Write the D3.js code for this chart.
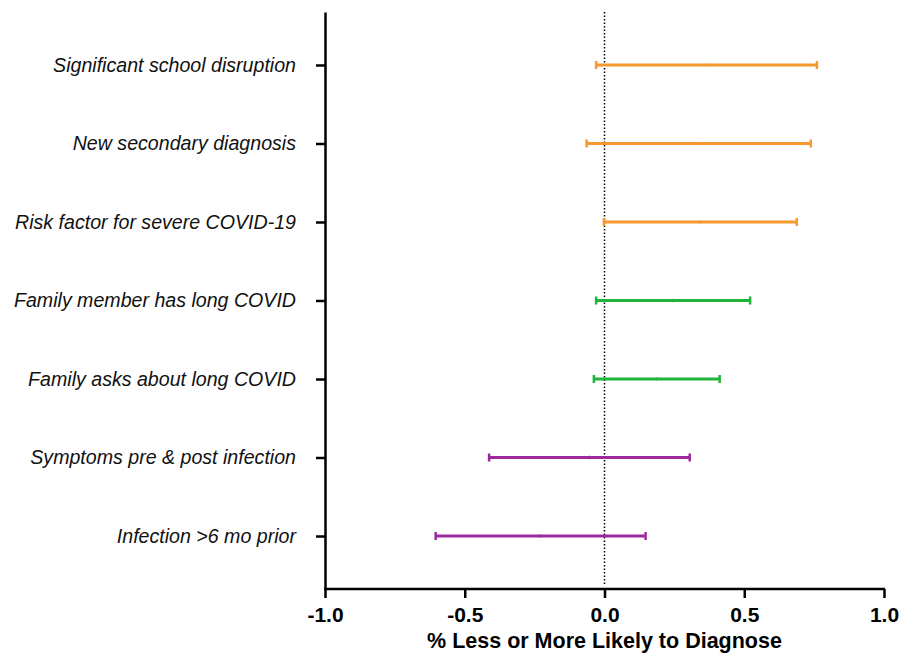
<!DOCTYPE html>
<html>
<head>
<meta charset="utf-8">
<script src="https://cdn.jsdelivr.net/npm/d3@7"></script>
<style>
  body { margin: 0; background: #fff; }
  svg { display: block; }
</style>
</head>
<body>
<svg id="chart"></svg>
<script>
// Chart data
const factors = [
    "Significant school disruption",
    "New secondary diagnosis",
    "Risk factor for severe COVID-19",
    "Family member has long COVID",
    "Family asks about long COVID",
    "Symptoms pre & post infection",
    "Infection >6 mo prior"
];
const lower = [-0.03, -0.064, -0.002, -0.03, -0.038, -0.413, -0.604];
const upper = [0.76, 0.738, 0.688, 0.521, 0.412, 0.305, 0.147];
const estimate = [0.365, 0.337, 0.343, 0.246, 0.187, -0.054, -0.229];
const groups = ["orange", "orange", "orange", "green", "green", "purple", "purple"];
const xTicks = [-1.0, -0.5, 0.0, 0.5, 1.0];

const groupColors = { orange: "#f7982f", green: "#1fb53a", purple: "#9c2a9c" };

const W = 901, H = 656;
const margin = { top: 12, right: 17, bottom: 67, left: 325 };
const font = "Liberation Sans, Arial, Helvetica, sans-serif";

const svg = d3.select("#chart").attr("width", W).attr("height", H);

const x = d3.scaleLinear().domain([-1, 1]).range([margin.left, W - margin.right]);
const y = d3.scalePoint().domain(factors).range([margin.top, H - margin.bottom]).padding(0.675);

// Dotted reference line at zero
svg.append("line")
    .attr("x1", x(0)).attr("x2", x(0))
    .attr("y1", margin.top).attr("y2", H - margin.bottom - 3)
    .attr("stroke", "#000")
    .attr("stroke-width", 1.5)
    .attr("stroke-dasharray", "1.5,2");

// Error bars
const rows = factors.map((f, i) => ({ f, lo: lower[i], hi: upper[i], est: estimate[i], c: groupColors[groups[i]] }));

const bars = svg.append("g").selectAll("g").data(rows).enter().append("g");

bars.append("line")
    .attr("x1", d => x(d.lo)).attr("x2", d => x(d.hi))
    .attr("y1", d => y(d.f)).attr("y2", d => y(d.f))
    .attr("stroke", d => d.c).attr("stroke-width", 3);

bars.selectAll(".cap").data(d => [{ v: d.lo, d }, { v: d.hi, d }]).enter().append("line")
    .attr("class", "cap")
    .attr("x1", e => x(e.v)).attr("x2", e => x(e.v))
    .attr("y1", e => y(e.d.f) - 4).attr("y2", e => y(e.d.f) + 4)
    .attr("stroke", e => e.d.c).attr("stroke-width", 2.5);

bars.append("line")
    .attr("x1", d => x(d.est)).attr("x2", d => x(d.est))
    .attr("y1", d => y(d.f) - 2).attr("y2", d => y(d.f) + 2)
    .attr("stroke", d => d.c).attr("stroke-width", 1).attr("opacity", 0.6);

// Y axis
const yAxis = svg.append("g")
    .attr("transform", `translate(${margin.left},0)`)
    .call(d3.axisLeft(y).tickSize(9).tickPadding(20).tickSizeOuter(0));
yAxis.select(".domain").attr("stroke-width", 2.5);
yAxis.selectAll(".tick line").attr("stroke-width", 2.5);
yAxis.selectAll("text")
    .attr("font-family", font)
    .attr("font-size", 19.6)
    .attr("font-style", "italic")
    .attr("fill", "#111");

// X axis
const xAxis = svg.append("g")
    .attr("transform", `translate(0,${H - margin.bottom})`)
    .call(d3.axisBottom(x).tickValues(xTicks).tickFormat(d => d.toFixed(1)).tickSize(9).tickPadding(9).tickSizeOuter(0));
xAxis.select(".domain").attr("stroke-width", 2.5).attr("d", `M${x(-1) - 1},0H${x(1) + 1}`);
xAxis.selectAll(".tick line").attr("stroke-width", 2.5);
xAxis.selectAll("text")
    .attr("font-family", font)
    .attr("font-size", 21)
    .attr("font-weight", "bold")
    .attr("fill", "#000");

// X axis title
svg.append("text")
    .attr("x", x(0))
    .attr("y", H - 8)
    .attr("text-anchor", "middle")
    .attr("font-family", font)
    .attr("font-size", 21.5)
    .attr("font-weight", "bold")
    .text("% Less or More Likely to Diagnose");
</script>
</body>
</html>
